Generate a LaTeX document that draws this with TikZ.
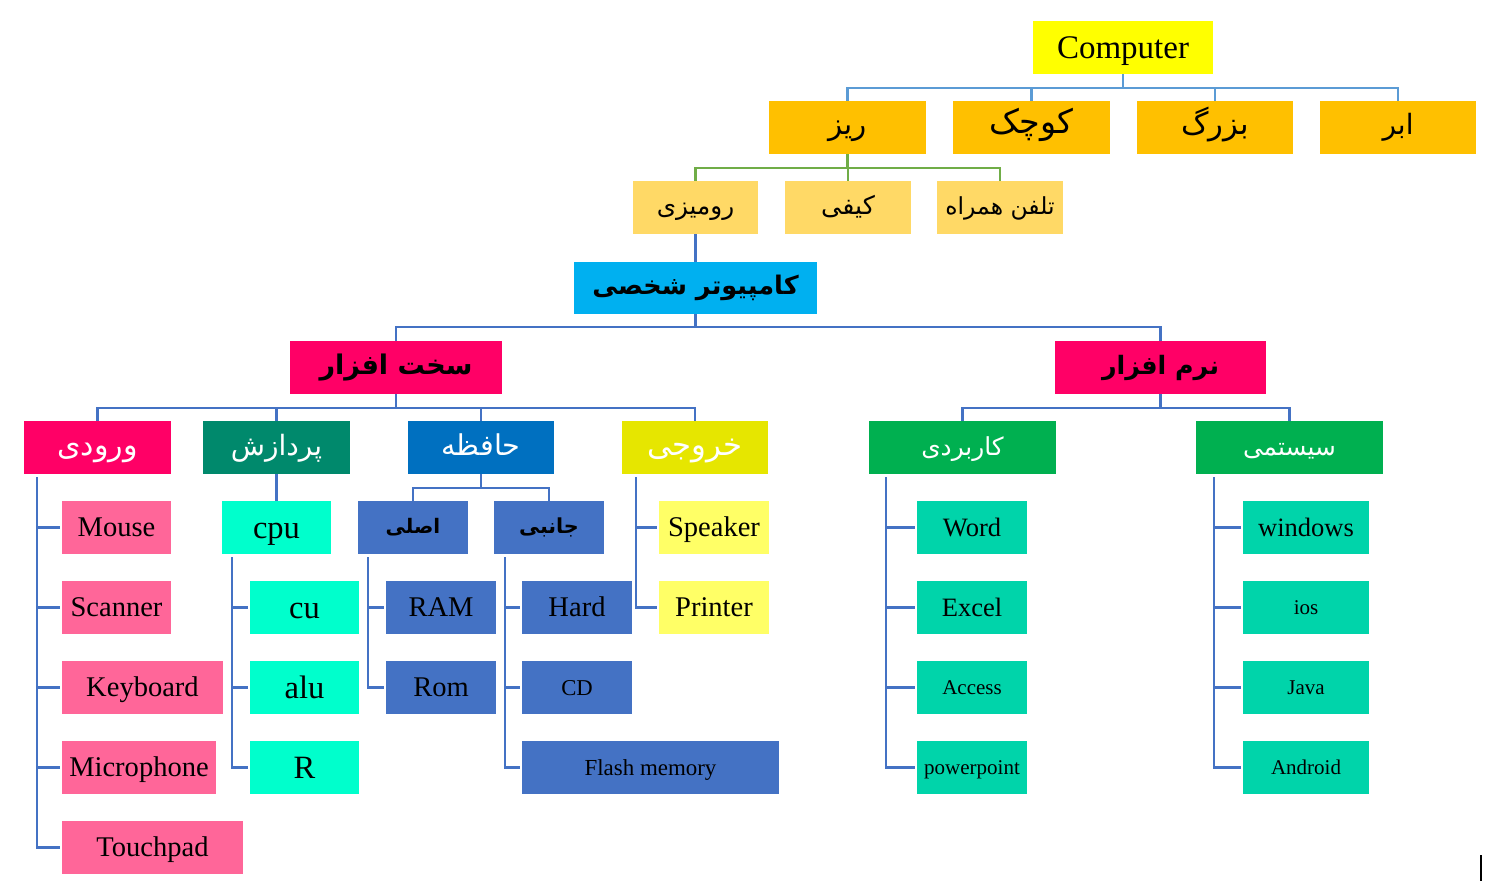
\documentclass[tikz,border=0pt]{standalone}
\usepackage{fontspec}
\setmainfont{Liberation Serif}
\newfontfamily\fa[Script=Arabic]{DejaVu Sans}
\TeXXeTstate=1
\definecolor{cYel}{HTML}{FFFF00}
\definecolor{cOr}{HTML}{FFC000}
\definecolor{cLt}{HTML}{FFD966}
\definecolor{cCy}{HTML}{00B0F0}
\definecolor{cMag}{HTML}{FF0066}
\definecolor{cTeal}{HTML}{00896C}
\definecolor{cBlue}{HTML}{0070C0}
\definecolor{cOlY}{HTML}{E6E600}
\definecolor{cGreen}{HTML}{00B050}
\definecolor{cPink}{HTML}{FF6699}
\definecolor{cAqua}{HTML}{00FFCC}
\definecolor{cMem}{HTML}{4472C4}
\definecolor{cLY}{HTML}{FFFF66}
\definecolor{cSw}{HTML}{00D4AA}
\definecolor{lnTop}{HTML}{5B9BD5}
\definecolor{lnBlue}{HTML}{4472C4}
\definecolor{lnGreen}{HTML}{70AD47}
\newcommand\fs[1]{\fontsize{#1}{1.2\dimexpr#1\relax}\selectfont}
\newcommand\rtl[1]{\fa\beginR #1\endR}
\newcommand\bx[7]{\node[box,#6,minimum width={(#4-#2)*0.75pt},minimum height={(#5-#3)*0.75pt}] (#1) at ({(#2+#4)/2},{(#3+#5)/2}) {#7};}
\tikzset{
  box/.style={inner sep=0pt, outer sep=0pt, draw=none, text=black},
  bl/.style={text height=#1, text depth=0pt},
  lat/.style={font=\fs{21.4pt}, bl=14.1pt},
  ln/.style={draw=lnBlue, line width=1.6pt},
  lntop/.style={draw=lnTop, line width=1.6pt},
  lngreen/.style={draw=lnGreen, line width=1.6pt},
}
\begin{document}
\begin{tikzpicture}[x=0.75pt,y=-0.75pt]
\useasboundingbox (0,0) rectangle (1498,889);
% top
\bx{comp}{1033}{21}{1213}{74}{fill=cYel,font=\fs{24.75pt},bl=16.3pt}{Computer}
\bx{riz}{769}{101}{926}{154}{fill=cOr,font=\fs{22pt},bl=10.5pt}{\rtl{ریز}}
\bx{kuchak}{953}{101}{1110}{154}{fill=cOr,font=\fs{25pt},bl=9.5pt}{\rtl{کوچک}}
\bx{bozorg}{1137}{101}{1293}{154}{fill=cOr,font=\fs{23pt},bl=10pt}{\rtl{بزرگ}}
\bx{abr}{1320}{101}{1476}{154}{fill=cOr,font=\fs{21pt},bl=10.5pt}{\rtl{ابر}}
\bx{rumizi}{633}{181}{758}{234}{fill=cLt,font=\fs{18.5pt},bl=11pt}{\rtl{رومیزی}}
\bx{kifi}{785}{181}{911}{234}{fill=cLt,font=\fs{19pt},bl=11pt}{\rtl{کیفی}}
\bx{telefon}{937}{181}{1063}{234}{fill=cLt,font=\fs{17.6pt},bl=11pt}{\rtl{تلفن همراه}}
\bx{pc}{574}{262}{817}{314}{fill=cCy,font=\fs{19.2pt}\bfseries,bl=10pt}{\rtl{کامپیوتر شخصی}}
\bx{sakht}{290}{341}{502}{394}{fill=cMag,font=\fs{20.3pt}\bfseries,bl=10pt}{\rtl{سخت افزار}}
\bx{narm}{1055}{341}{1266}{394}{fill=cMag,font=\fs{19pt}\bfseries,bl=10pt}{\rtl{نرم افزار}}
% level 3
\bx{vorudi}{24}{421}{171}{474}{fill=cMag,text=white,font=\fs{22.5pt},bl=12.5pt}{\rtl{ورودی}}
\bx{pardazesh}{203}{421}{350}{474}{fill=cTeal,text=white,font=\fs{21pt},bl=12.5pt}{\rtl{پردازش}}
\bx{hafeze}{408}{421}{554}{474}{fill=cBlue,text=white,font=\fs{21.5pt},bl=12pt}{\rtl{حافظه}}
\bx{khoruji}{622}{421}{768}{474}{fill=cOlY,text=white,font=\fs{23pt},bl=12.5pt}{\rtl{خروجی}}
\bx{karbordi}{869}{421}{1056}{474}{fill=cGreen,text=white,font=\fs{18.6pt},bl=12pt}{\rtl{کاربردی}}
\bx{systemi}{1196}{421}{1383}{474}{fill=cGreen,text=white,font=\fs{18.6pt},bl=12pt}{\rtl{سیستمی}}
% input
\bx{mouse}{62}{501}{171}{554}{fill=cPink,lat}{Mouse}
\bx{scanner}{62}{581}{171}{634}{fill=cPink,lat}{Scanner}
\bx{keyboard}{62}{661}{223}{714}{fill=cPink,lat}{Keyboard}
\bx{micro}{62}{741}{216}{794}{fill=cPink,lat}{Microphone}
\bx{touch}{62}{821}{243}{874}{fill=cPink,lat}{Touchpad}
% processing
\bx{cpu}{222}{501}{331}{554}{fill=cAqua,font=\fs{24.4pt},bl=16.1pt}{cpu}
\bx{cu}{250}{581}{359}{634}{fill=cAqua,font=\fs{24.4pt},bl=16.1pt}{cu}
\bx{alu}{250}{661}{359}{714}{fill=cAqua,font=\fs{24.4pt},bl=16.1pt}{alu}
\bx{R}{250}{741}{359}{794}{fill=cAqua,font=\fs{24.4pt},bl=16.1pt}{R}
% memory
\bx{asli}{358}{501}{468}{554}{fill=cMem,font=\fs{15pt}\bfseries,bl=9pt}{\rtl{اصلی}}
\bx{janebi}{494}{501}{604}{554}{fill=cMem,font=\fs{15.5pt}\bfseries,bl=9pt}{\rtl{جانبی}}
\bx{ram}{386}{581}{496}{634}{fill=cMem,lat}{RAM}
\bx{rom}{386}{661}{496}{714}{fill=cMem,lat}{Rom}
\bx{hard}{522}{581}{632}{634}{fill=cMem,lat}{Hard}
\bx{cd}{522}{661}{632}{714}{fill=cMem,font=\fs{17pt},bl=11.3pt}{CD}
\bx{flash}{522}{741}{779}{794}{fill=cMem,font=\fs{17.2pt},bl=11.3pt}{Flash memory}
% output
\bx{speaker}{659}{501}{769}{554}{fill=cLY,lat}{Speaker}
\bx{printer}{659}{581}{769}{634}{fill=cLY,lat}{Printer}
% software
\bx{word}{917}{501}{1027}{554}{fill=cSw,font=\fs{19.9pt},bl=13.1pt}{Word}
\bx{excel}{917}{581}{1027}{634}{fill=cSw,font=\fs{19.9pt},bl=13.1pt}{Excel}
\bx{access}{917}{661}{1027}{714}{fill=cSw,font=\fs{15.75pt},bl=10.4pt}{Access}
\bx{ppt}{917}{741}{1027}{794}{fill=cSw,font=\fs{15.75pt},bl=10.4pt}{powerpoint}
\bx{windows}{1243}{501}{1369}{554}{fill=cSw,font=\fs{19.9pt},bl=13.1pt}{windows}
\bx{ios}{1243}{581}{1369}{634}{fill=cSw,font=\fs{15.75pt},bl=10.4pt}{ios}
\bx{java}{1243}{661}{1369}{714}{fill=cSw,font=\fs{15.75pt},bl=10.4pt}{Java}
\bx{android}{1243}{741}{1369}{794}{fill=cSw,font=\fs{15.75pt},bl=10.4pt}{Android}
% connectors: trees
\foreach \c in {riz,kuchak,bozorg,abr}
  \draw[lntop] (comp.south) |- ([yshift=9.75pt]\c.north) -- (\c.north);
\foreach \c in {rumizi,kifi,telefon}
  \draw[lngreen] (riz.south) |- ([yshift=9.75pt]\c.north) -- (\c.north);
\draw[ln] (rumizi.south) -- (pc.north);
\foreach \c in {sakht,narm}
  \draw[ln] (pc.south) |- ([yshift=10.5pt]\c.north) -- (\c.north);
\foreach \c in {vorudi,pardazesh,hafeze,khoruji}
  \draw[ln] (sakht.south) |- ([yshift=9.75pt]\c.north) -- (\c.north);
\foreach \c in {karbordi,systemi}
  \draw[ln] (narm.south) |- ([yshift=9.75pt]\c.north) -- (\c.north);
\draw[ln] (pardazesh.south) -- (cpu.north);
\foreach \c in {asli,janebi}
  \draw[ln] (hafeze.south) |- ([yshift=9.75pt]\c.north) -- (\c.north);
% connectors: side lists
\foreach \c in {mouse,scanner,keyboard,micro,touch}
  \draw[ln] (vorudi.south west) ++(13,3) |- ([xshift=-1.5pt]\c.west);
\foreach \c in {cu,alu,R}
  \draw[ln] (cpu.south west) ++(10,3) |- ([xshift=-1.5pt]\c.west);
\foreach \c in {ram,rom}
  \draw[ln] (asli.south west) ++(10,3) |- ([xshift=-1.5pt]\c.west);
\foreach \c in {hard,cd,flash}
  \draw[ln] (janebi.south west) ++(11,3) |- ([xshift=-1.5pt]\c.west);
\foreach \c in {speaker,printer}
  \draw[ln] (khoruji.south west) ++(14,3) |- ([xshift=-1.5pt]\c.west);
\foreach \c in {word,excel,access,ppt}
  \draw[ln] (karbordi.south west) ++(17,3) |- ([xshift=-1.5pt]\c.west);
\foreach \c in {windows,ios,java,android}
  \draw[ln] (systemi.south west) ++(18,3) |- ([xshift=-1.5pt]\c.west);
% cursor mark
\coordinate (cur) at (1481,855);
\draw[black, line width=0.8pt] (cur) -- ++(0,26);
\end{tikzpicture}
\end{document}
